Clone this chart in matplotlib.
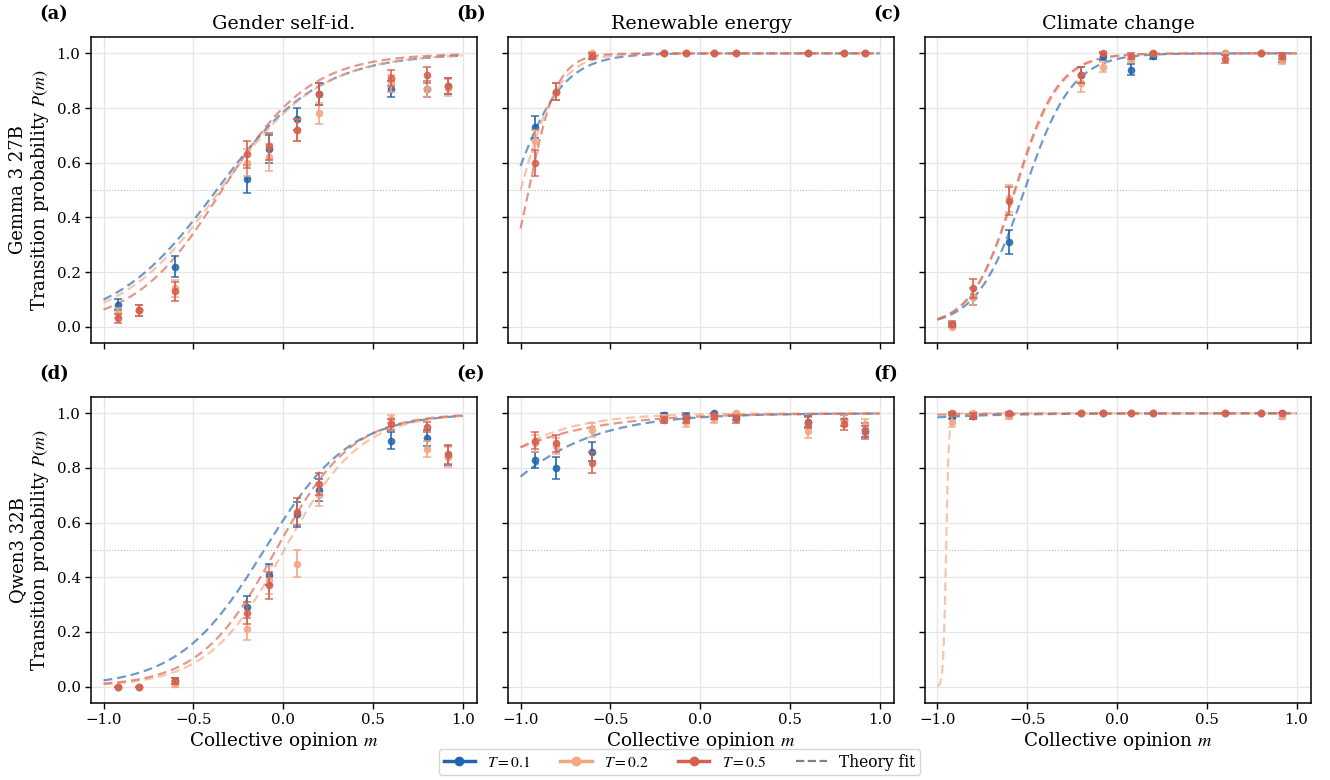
import numpy as np
import matplotlib
matplotlib.use("Agg")
import matplotlib.pyplot as plt
from matplotlib.lines import Line2D

plt.rcParams['font.family'] = ['DejaVu Serif']
plt.rcParams['mathtext.fontset'] = 'stix'

# ---------------- data ----------------
m_vals = [-0.92, -0.8, -0.6, -0.2, -0.08, 0.08, 0.2, 0.6, 0.8, 0.92]
temps = ["0.1", "0.2", "0.5"]
colors = ["#2166ac", "#f4a582", "#d6604d"]
topics = ["Gender self-id.", "Renewable energy", "Climate change"]
models = ["Gemma 3 27B", "Qwen3 32B"]
panel_labels = ["(a)", "(b)", "(c)", "(d)", "(e)", "(f)"]

# Gemma 3 27B
gemma_gender_p = [
    [0.08, 0.06, 0.22, 0.54, 0.65, 0.76, 0.85, 0.87, 0.87, 0.88],
    [0.05, 0.06, 0.14, 0.60, 0.62, 0.72, 0.78, 0.89, 0.87, 0.875],
    [0.03, 0.06, 0.13, 0.63, 0.66, 0.72, 0.85, 0.91, 0.92, 0.88],
]
gemma_gender_e = [
    [0.02, 0.02, 0.04, 0.05, 0.05, 0.04, 0.04, 0.03, 0.03, 0.03],
    [0.02, 0.02, 0.03, 0.05, 0.05, 0.04, 0.04, 0.03, 0.03, 0.03],
    [0.015, 0.02, 0.035, 0.05, 0.05, 0.04, 0.04, 0.03, 0.03, 0.03],
]
gemma_renew_p = [
    [0.73, 0.86, 0.99, 1.0, 1.0, 1.0, 1.0, 1.0, 1.0, 1.0],
    [0.68, 0.86, 1.0, 1.0, 1.0, 1.0, 1.0, 1.0, 1.0, 1.0],
    [0.60, 0.86, 0.99, 1.0, 1.0, 1.0, 1.0, 1.0, 1.0, 1.0],
]
gemma_renew_e = [
    [0.04, 0.03, 0.01, 0.0, 0.0, 0.0, 0.0, 0.0, 0.0, 0.0],
    [0.04, 0.03, 0.005, 0.0, 0.0, 0.0, 0.0, 0.0, 0.0, 0.0],
    [0.047, 0.03, 0.01, 0.0, 0.0, 0.0, 0.0, 0.0, 0.0, 0.0],
]
gemma_climate_p = [
    [0.007, 0.11, 0.31, 0.92, 0.99, 0.94, 0.99, 1.0, 1.0, 0.98],
    [0.0, 0.11, 0.47, 0.89, 0.95, 0.98, 1.0, 1.0, 1.0, 0.975],
    [0.01, 0.14, 0.46, 0.92, 1.0, 0.99, 1.0, 0.98, 1.0, 0.99],
]
gemma_climate_e = [
    [0.005, 0.03, 0.045, 0.03, 0.015, 0.02, 0.01, 0.0, 0.0, 0.01],
    [0.0, 0.03, 0.05, 0.03, 0.02, 0.01, 0.0, 0.0, 0.0, 0.015],
    [0.01, 0.035, 0.05, 0.03, 0.0, 0.01, 0.0, 0.015, 0.0, 0.01],
]
# Qwen3 32B
qwen_gender_p = [
    [0.0, 0.0, 0.02, 0.29, 0.41, 0.63, 0.72, 0.90, 0.91, 0.845],
    [0.0, 0.0, 0.01, 0.21, 0.39, 0.45, 0.70, 0.98, 0.87, 0.84],
    [0.0, 0.0, 0.02, 0.27, 0.37, 0.64, 0.74, 0.96, 0.95, 0.85],
]
qwen_gender_e = [
    [0.0, 0.0, 0.01, 0.04, 0.04, 0.045, 0.04, 0.03, 0.03, 0.035],
    [0.0, 0.0, 0.01, 0.04, 0.05, 0.05, 0.04, 0.015, 0.03, 0.035],
    [0.0, 0.0, 0.01, 0.04, 0.05, 0.05, 0.04, 0.02, 0.02, 0.035],
]
qwen_renew_p = [
    [0.83, 0.80, 0.86, 0.995, 0.99, 1.0, 0.985, 0.97, 0.975, 0.94],
    [0.89, 0.88, 0.94, 0.985, 0.97, 0.98, 1.0, 0.935, 0.975, 0.96],
    [0.90, 0.89, 0.82, 0.975, 0.98, 0.99, 0.98, 0.965, 0.96, 0.93],
]
qwen_renew_e = [
    [0.03, 0.04, 0.035, 0.005, 0.01, 0.0, 0.01, 0.02, 0.02, 0.025],
    [0.03, 0.03, 0.025, 0.01, 0.02, 0.015, 0.0, 0.025, 0.02, 0.02],
    [0.03, 0.03, 0.04, 0.01, 0.015, 0.01, 0.015, 0.02, 0.02, 0.025],
]
qwen_climate_p = [
    [0.99, 0.99, 0.995, 1.0, 1.0, 1.0, 1.0, 1.0, 1.0, 1.0],
    [0.97, 1.0, 0.99, 1.0, 1.0, 1.0, 1.0, 1.0, 1.0, 0.99],
    [1.0, 0.99, 1.0, 1.0, 1.0, 1.0, 1.0, 1.0, 1.0, 1.0],
]
qwen_climate_e = [
    [0.01, 0.01, 0.005, 0.0, 0.0, 0.0, 0.0, 0.0, 0.0, 0.0],
    [0.02, 0.005, 0.01, 0.0, 0.0, 0.0, 0.0, 0.0, 0.0, 0.01],
    [0.005, 0.01, 0.005, 0.0, 0.0, 0.0, 0.0, 0.0, 0.0, 0.0],
]

# Theory fit (logistic) parameters: slope k and midpoint m0 per temperature
gemma_gender_k = [3.5, 3.6, 4.1]
gemma_gender_m0 = [-0.37, -0.35, -0.34]
gemma_renew_k = [7.1, 9.3, 12.6]
gemma_renew_m0 = [-1.05, -1.0, -0.954]
gemma_climate_k = [7.5, 8.2, 8.3]
gemma_climate_m0 = [-0.515, -0.565, -0.57]
qwen_gender_k = [4.2, 4.7, 4.7]
qwen_gender_m0 = [-0.105, 0.006, -0.04]
qwen_renew_k = [3.0, 3.55, 2.5]
qwen_renew_m0 = [-1.40, -1.55, -1.78]
qwen_climate_k = [2.75, 130.0, 3.0]
qwen_climate_m0 = [-2.53, -0.952, -2.77]

P_sets = [[gemma_gender_p, gemma_renew_p, gemma_climate_p],
          [qwen_gender_p, qwen_renew_p, qwen_climate_p]]
E_sets = [[gemma_gender_e, gemma_renew_e, gemma_climate_e],
          [qwen_gender_e, qwen_renew_e, qwen_climate_e]]
K_sets = [[gemma_gender_k, gemma_renew_k, gemma_climate_k],
          [qwen_gender_k, qwen_renew_k, qwen_climate_k]]
M0_sets = [[gemma_gender_m0, gemma_renew_m0, gemma_climate_m0],
           [qwen_gender_m0, qwen_renew_m0, qwen_climate_m0]]

# ---------------- figure ----------------
fig, axes = plt.subplots(2, 3, figsize=(13.3, 7.8), dpi=100, sharex=True, sharey=True)
fig.subplots_adjust(left=0.0684, right=0.9857, top=0.9526, bottom=0.0987,
                    wspace=0.08, hspace=0.176)

mm = np.linspace(-1, 1, 400)
for r in range(2):
    for c in range(3):
        ax = axes[r, c]
        ax.grid(True, color="#e6e6e6", linewidth=0.9)
        ax.set_axisbelow(True)
        ax.axhline(0.5, color="#bbbbbb", linestyle=":", linewidth=0.8, zorder=1)
        for i in range(3):
            k = K_sets[r][c][i]
            m0 = M0_sets[r][c][i]
            curve = 1.0 / (1.0 + np.exp(-k * (mm - m0)))
            ax.plot(mm, curve, linestyle="--", color=colors[i], alpha=0.65,
                    linewidth=1.6, zorder=2, dashes=(4, 2.2))
        for i in range(3):
            ax.errorbar(m_vals, P_sets[r][c][i], yerr=E_sets[r][c][i],
                        fmt="o", color=colors[i], markersize=4.5, capsize=3,
                        elinewidth=1.4, capthick=1.2, alpha=0.85, zorder=3 + i)
        ax.set_xlim(-1.07, 1.08)
        ax.set_ylim(-0.06, 1.06)
        ax.set_xticks([-1.0, -0.5, 0.0, 0.5, 1.0])
        ax.set_yticks([0.0, 0.2, 0.4, 0.6, 0.8, 1.0])
        ax.tick_params(labelsize=10.8, length=4, width=1.0)
        for s in ax.spines.values():
            s.set_linewidth(1.1)
        ax.text(-0.135, 1.045, panel_labels[r * 3 + c], transform=ax.transAxes,
                fontsize=13, fontweight="bold", ha="left", va="bottom")
        if r == 0:
            ax.set_title(topics[c], fontsize=13.8, pad=6)
        if r == 1:
            ax.set_xlabel("Collective opinion $m$", fontsize=13.3, labelpad=2)
        if c == 0:
            ax.set_ylabel(models[r] + "\nTransition probability $P(m)$", fontsize=13,
                          linespacing=1.1)

handles = [Line2D([0], [0], color=colors[i], marker="o", linewidth=2.5, markersize=6)
           for i in range(3)]
handles.append(Line2D([0], [0], color="gray", linestyle="--", linewidth=1.6))
labels = ["$T=" + t + "$" for t in temps] + ["Theory fit"]
fig.legend(handles, labels, loc="lower center", ncol=4, bbox_to_anchor=(0.511, -0.004),
           fontsize=11.2, frameon=True, handlelength=2.0, columnspacing=1.9,
           borderpad=0.3, handletextpad=0.8)

fig.savefig("out.png", dpi=100)
